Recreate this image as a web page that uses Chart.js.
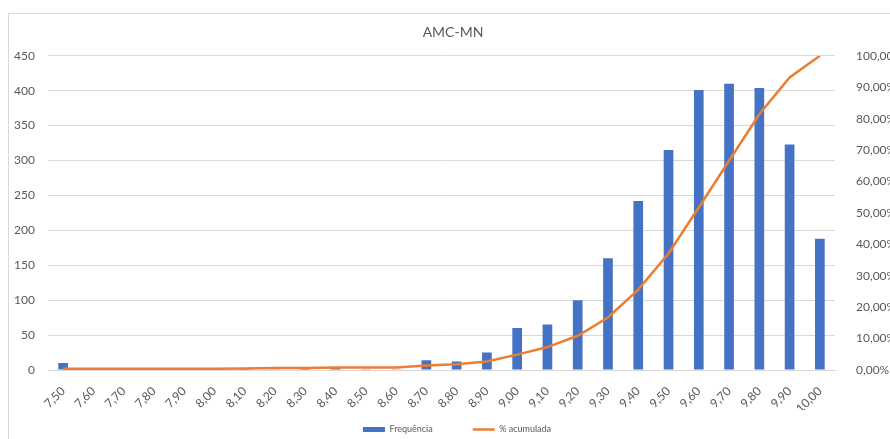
<!DOCTYPE html>
<html>
<head>
<meta charset="utf-8">
<script src="https://cdn.jsdelivr.net/npm/chart.js@4"></script>
<style>
  html, body { margin: 0; padding: 0; background: #fff; overflow: hidden; }
  .frame { position: absolute; left: 8px; top: 13px; width: 1000px; height: 1000px;
           border-left: 1px solid #d9d9d9; border-top: 1px solid #d9d9d9; }
  .wrap { position: absolute; left: 0; top: 0; width: 890px; height: 439px; }
</style>
</head>
<body>
<div class="frame"></div>
<div class="wrap"><canvas id="paretoChart" width="890" height="439"></canvas></div>
<script>
const categories = ['7,50', '7,60', '7,70', '7,80', '7,90', '8,00', '8,10', '8,20', '8,30', '8,40', '8,50', '8,60', '8,70',
                    '8,80', '8,90', '9,00', '9,10', '9,20', '9,30', '9,40', '9,50', '9,60', '9,70', '9,80', '9,90', '10,00'];
const frequencia = [10, 0, 0, 0, 1, 1, 2, 1, 2, 4, 1, 1, 14, 12, 25, 60, 65, 100, 160, 242, 315, 401, 410, 404, 323, 188];
const acumulada = [0.4, 0.4, 0.4, 0.4, 0.4, 0.4, 0.5, 0.6, 0.6, 0.8, 0.8, 0.8, 1.4, 1.8, 2.7, 4.9, 7.3, 10.9, 16.7, 25.6,
                   37.1, 51.7, 66.6, 81.4, 93.1, 100];
const leftTicks = [0, 50, 100, 150, 200, 250, 300, 350, 400, 450];

const textColor = '#595959';
const font = { family: 'Lato, "Open Sans", sans-serif', size: 12 };

// nudge title and legend a little, like the Excel original
const nudge = {
    id: 'nudge',
    afterLayout(chart) {
        chart.titleBlock.left += 16;
        chart.legend.left += 24;
        chart.legend.top -= 25;
        chart.legend.bottom -= 25;
    }
};

const ctx = document.getElementById('paretoChart').getContext('2d');
const paretoChart = new Chart(ctx, {
    type: 'bar',
    data: {
        labels: categories,
        datasets: [{
            type: 'line',
            label: '% acumulada',
            data: acumulada,
            yAxisID: 'y1',
            borderColor: '#ED7D31',
            backgroundColor: '#ED7D31',
            borderWidth: 2.5,
            pointRadius: 0,
            tension: 0,
            order: 0
        }, {
            label: 'Frequência',
            data: frequencia,
            yAxisID: 'y',
            backgroundColor: '#4472C4',
            barPercentage: 0.32,
            categoryPercentage: 1,
            order: 1
        }]
    },
    options: {
        responsive: false,
        animation: false,
        layout: { padding: { left: 0, right: 0, top: 6, bottom: -30 } },
        plugins: {
            title: {
                display: true,
                text: 'AMC-MN',
                color: textColor,
                font: { family: font.family, size: 14, weight: 'normal' },
                padding: { top: 18, bottom: 15 }
            },
            legend: {
                position: 'bottom',
                reverse: true,
                labels: {
                    color: textColor,
                    font: { family: font.family, size: 9 },
                    usePointStyle: true,
                    pointStyleWidth: 22,
                    boxHeight: 5,
                    padding: 40,
                    generateLabels(chart) {
                        const items = Chart.defaults.plugins.legend.labels.generateLabels(chart);
                        items.forEach(it => {
                            const ds = chart.data.datasets[it.datasetIndex];
                            it.pointStyle = ds.type === 'line' ? 'line' : 'rect';
                            it.lineWidth = ds.type === 'line' ? 2.5 : 0;
                            it.strokeStyle = ds.type === 'line' ? '#ED7D31' : '#4472C4';
                        });
                        return items;
                    }
                }
            },
            tooltip: { enabled: false }
        },
        scales: {
            x: {
                grid: { display: false },
                border: { color: '#d9d9d9' },
                ticks: { color: textColor, font: font, minRotation: 45, maxRotation: 45, autoSkip: false, padding: 6 },
                afterFit: s => { s.paddingLeft = 0; s.paddingRight = 0; s.height = 40; }
            },
            y: {
                position: 'left',
                min: 0,
                max: 450,
                afterBuildTicks: axis => { axis.ticks = leftTicks.map(v => ({ value: v })); },
                afterFit: s => { s.width = 48; },
                grid: { color: '#d9d9d9', drawTicks: false },
                border: { display: false },
                ticks: { color: textColor, font: font, padding: 13 }
            },
            y1: {
                position: 'right',
                min: 0,
                max: 100,
                afterFit: s => { s.width = 55; },
                grid: { display: false },
                border: { display: false },
                ticks: {
                    stepSize: 10,
                    color: textColor,
                    font: font,
                    padding: 13,
                    callback: v => v.toFixed(2).replace('.', ',') + '%'
                }
            }
        }
    },
    plugins: [nudge]
});
</script>
</body>
</html>
